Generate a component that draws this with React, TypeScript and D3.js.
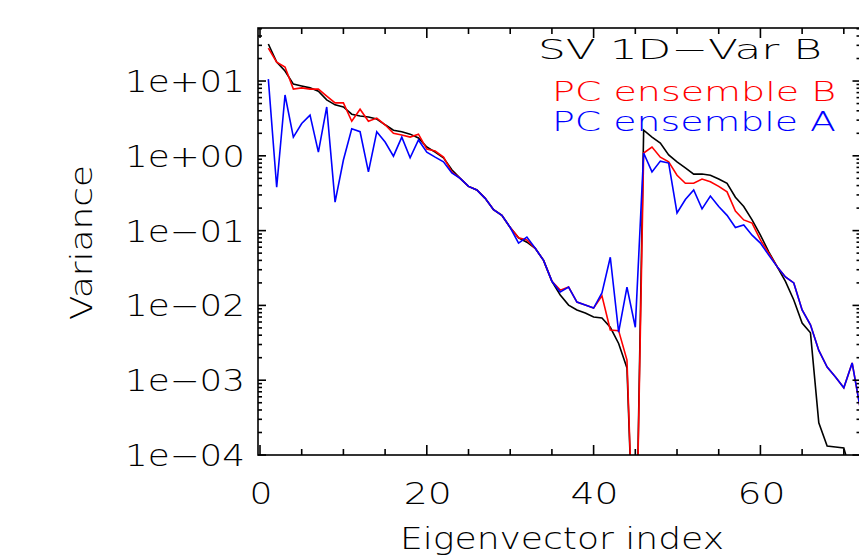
import React from "react";
import * as d3 from "d3";

const idx = d3.range(1, 73);
const svB = [31.3,17.9,13.6,9.1,8.6,8.1,7.3,5.6,4.8,4.5,3.6,3.4,3.3,3.1,2.6,2.2,2.1,1.95,1.73,1.31,1.12,0.94,0.65,0.50,0.39,0.35,0.27,0.19,0.16,0.11,0.080,0.070,0.058,0.040,0.021,0.0138,0.0101,0.0087,0.0079,0.0070,0.0068,0.0051,0.0031,0.00146,1e-6,2.2,1.78,1.48,1.03,0.83,0.69,0.57,0.57,0.55,0.49,0.43,0.28,0.21,0.139,0.087,0.052,0.033,0.021,0.0118,0.0058,0.0043,0.00027,0.000132,0.000128,0.000124,5e-5,3e-5];
const pcB = [27.6,17.9,15.4,7.8,8.1,7.8,7.8,6.3,5.1,5.1,2.9,4.2,2.9,3.2,2.6,2.0,1.9,1.78,1.95,1.23,1.16,0.96,0.61,0.50,0.39,0.35,0.27,0.19,0.16,0.11,0.080,0.075,0.058,0.040,0.021,0.016,0.0176,0.0111,0.0101,0.0092,0.0134,0.0047,0.0046,0.00186,1e-6,1.09,1.31,0.96,0.83,0.55,0.43,0.43,0.49,0.45,0.39,0.33,0.183,0.139,0.126,0.075,0.050,0.033,0.024,0.020,0.0087,0.0055,0.0025,0.0015,0.0011,0.00079,0.0017,0.0004];
const pcA = [10.6,0.38,6.5,1.78,2.7,3.5,1.12,4.5,0.24,0.88,2.3,2.1,0.61,2.1,1.53,0.99,1.78,0.94,1.63,1.12,0.96,0.83,0.59,0.50,0.39,0.35,0.27,0.19,0.16,0.11,0.068,0.082,0.058,0.040,0.021,0.0151,0.0176,0.0111,0.0101,0.0092,0.0147,0.044,0.0044,0.0176,0.0051,1.09,0.61,0.85,0.80,0.172,0.26,0.35,0.195,0.29,0.21,0.16,0.11,0.119,0.087,0.068,0.047,0.033,0.024,0.020,0.0087,0.0055,0.0025,0.0015,0.0011,0.00079,0.0017,0.0004];
const yTicks = [1e1, 1, 1e-1, 1e-2, 1e-3, 1e-4];
const yTickLabels = ["1e+01", "1e+00", "1e\u221201", "1e\u221202", "1e\u221203", "1e\u221204"];
const xTicks = [0, 20, 40, 60];
const series = [
  { name: "SV 1D\u2212Var B", data: svB, color: "#000000" },
  { name: "PC ensemble B", data: pcB, color: "#ff0000" },
  { name: "PC ensemble A", data: pcA, color: "#0000ff" },
];

export default function App() {
  const L = 258, R = 860.5, T = 28, B = 455;
  const x = d3.scaleLinear().domain([0, 72]).range([260, R]);
  const y = d3.scaleLog().domain([1e-4, Math.pow(10, 1.709)]).range([B, T]);
  const font = "DejaVu Sans, sans-serif";
  const minorY: number[] = [];
  for (let e = -4; e < 2; e++) for (let m = 2; m < 10; m++) { const v = m * Math.pow(10, e); if (v < y.domain()[1]) minorY.push(v); }
  const minorX = d3.range(0, 75, 5);
  const line = (d: number[]) =>
    d3.line<number>().x((_, i) => x(idx[i])).y((v) => y(Math.max(v, 1e-7)))(d) as string;
  const legX = [538, 552, 552];
  const legY = [59, 101, 131];
  return (
    <svg width={859} height={558} style={{ position: "absolute", left: 0, top: 0, background: "#fff" }}>
      <defs>
        <clipPath id="c"><rect x={L} y={T} width={R - L} height={B - T} /></clipPath>
      </defs>
      <g clipPath="url(#c)" fill="none" strokeWidth={1.6}>
        {series.map((s) => <path key={s.name} d={line(s.data)} stroke={s.color} />)}
      </g>
      <g stroke="#000" strokeWidth={1.6} fill="none">
        <rect x={L} y={T} width={R - L + 2} height={B - T} />
        {minorX.map((t) => {
          const len = t % 20 === 0 ? 10 : 6;
          return <g key={t}><line x1={x(t)} x2={x(t)} y1={B} y2={B - len} /><line x1={x(t)} x2={x(t)} y1={T} y2={T + len} /></g>;
        })}
        {yTicks.map((t) => <g key={t}><line x1={L} x2={L + 8} y1={y(t)} y2={y(t)} /><line x1={R} x2={R - 8} y1={y(t)} y2={y(t)} /></g>)}
        {minorY.map((t, i) => <g key={i}><line x1={L} x2={L + 4} y1={y(t)} y2={y(t)} /><line x1={R} x2={R - 4} y1={y(t)} y2={y(t)} /></g>)}
      </g>
      <g fontFamily={font} fontSize={30} fontWeight={200} fill="#000">
        {yTicks.map((t, i) => <text key={t} x={125} y={y(t) + 11} textLength={120} lengthAdjust="spacingAndGlyphs">{yTickLabels[i]}</text>)}
        {xTicks.map((t) => <text key={t} x={x(t) + 1} y={504} textAnchor="middle" textLength={t === 0 ? 23 : 48} lengthAdjust="spacingAndGlyphs">{t}</text>)}
        <text x={400} y={549} textLength={324} lengthAdjust="spacingAndGlyphs">Eigenvector index</text>
        <text transform="translate(92,320) rotate(-90)" textLength={155} lengthAdjust="spacingAndGlyphs">Variance</text>
      </g>
      <g fontFamily={font} fontSize={27} fontWeight={200}>
        {series.map((s, i) => (
          <text key={s.name} x={legX[i]} y={legY[i]} fill={s.color} textLength={284} lengthAdjust="spacingAndGlyphs">{s.name}</text>
        ))}
      </g>
    </svg>
  );
}
